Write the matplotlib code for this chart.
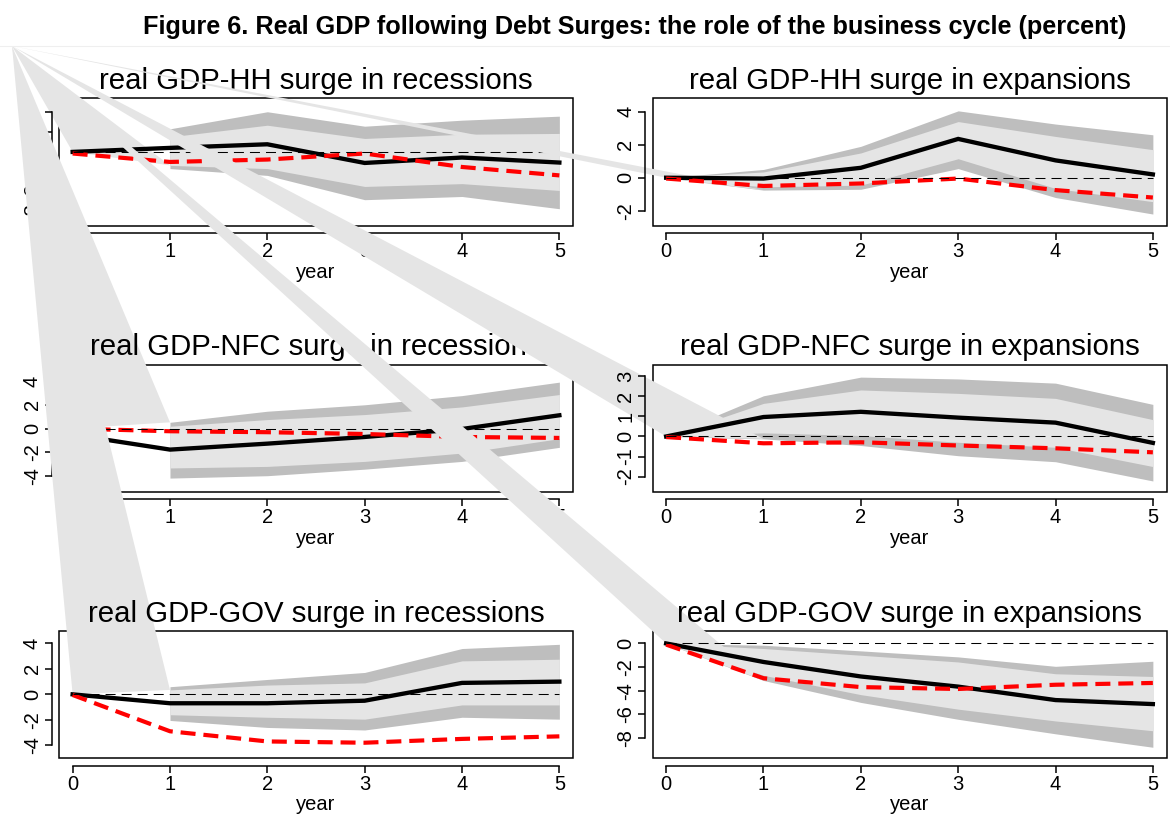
import matplotlib
matplotlib.use("Agg")
import matplotlib.pyplot as plt
from matplotlib.patches import Polygon, Rectangle
from matplotlib.transforms import IdentityTransform
from matplotlib.lines import Line2D

plt.rcParams['font.family'] = ['Liberation Sans', 'DejaVu Sans']

years = [0, 1, 2, 3, 4, 5]

# household debt surges
hh_rec_mean = [0, 0.2, 0.38, -0.55, -0.28, -0.53]
hh_rec_alt = [-0.08, -0.5, -0.38, -0.08, -0.75, -1.17]
hh_rec_hi90 = [1.15, 2.0, 1.28, 1.58, 1.78]
hh_rec_lo90 = [-0.83, -1.17, -2.38, -2.22, -2.83]
hh_rec_hi68 = [0.75, 1.33, 0.67, 0.88, 0.92]
hh_rec_lo68 = [-0.67, -0.83, -1.72, -1.58, -1.92]

hh_exp_mean = [0, -0.05, 0.6, 2.35, 1.05, 0.2]
hh_exp_alt = [-0.05, -0.5, -0.35, -0.05, -0.75, -1.2]
hh_exp_hi90 = [0, 0.5, 1.9, 4.05, 3.25, 2.6]
hh_exp_lo90 = [0, -0.75, -0.7, 0.55, -1.2, -2.2]
hh_exp_hi68 = [0, 0.35, 1.5, 3.4, 2.5, 1.7]
hh_exp_lo68 = [0, -0.55, -0.45, 1.15, -0.65, -1.45]

# non-financial corporate debt surges
nfc_rec_mean = [-0.5, -1.76, -1.26, -0.7, -0.03, 1.12]
nfc_rec_alt = [0, -0.22, -0.3, -0.45, -0.7, -0.78]
nfc_rec_hi90 = [0.53, 1.46, 2.0, 2.77, 3.9]
nfc_rec_lo90 = [-4.15, -3.95, -3.4, -2.75, -1.57]
nfc_rec_hi68 = [0.2, 0.76, 1.18, 1.82, 2.86]
nfc_rec_lo68 = [-3.3, -3.17, -2.75, -2.05, -0.84]

nfc_exp_mean = [0, 0.97, 1.23, 0.94, 0.69, -0.32]
nfc_exp_alt = [-0.03, -0.34, -0.29, -0.45, -0.59, -0.79]
nfc_exp_hi90 = [0, 2.03, 2.96, 2.87, 2.66, 1.6]
nfc_exp_lo90 = [0, -0.12, -0.45, -0.96, -1.26, -2.22]
nfc_exp_hi68 = [0, 1.65, 2.32, 2.15, 1.9, 0.84]
nfc_exp_lo68 = [0, 0.18, 0.05, -0.29, -0.54, -1.5]

# government debt surges
gov_rec_mean = [0, -0.7, -0.7, -0.5, 0.9, 1.0]
gov_rec_alt = [-0.05, -2.9, -3.7, -3.8, -3.5, -3.3]
gov_rec_hi90 = [0.6, 1.17, 1.72, 3.6, 3.93]
gov_rec_lo90 = [-2.05, -2.6, -2.8, -1.8, -1.95]
gov_rec_hi68 = [0.35, 0.73, 0.9, 2.63, 2.76]
gov_rec_lo68 = [-1.6, -1.8, -1.95, -0.83, -0.83]

gov_exp_mean = [0, -1.57, -2.8, -3.66, -4.8, -5.14]
gov_exp_alt = [-0.1, -2.95, -3.7, -3.86, -3.5, -3.35]
gov_exp_hi90 = [0, -0.15, -0.63, -1.14, -1.94, -1.51]
gov_exp_lo90 = [0, -3.14, -5.0, -6.43, -7.66, -8.8]
gov_exp_hi68 = [0, -0.43, -1.0, -1.57, -2.57, -2.8]
gov_exp_lo68 = [0, -2.7, -4.34, -5.57, -6.57, -7.4]

titles = ["real GDP-HH surge in recessions", "real GDP-HH surge in expansions",
          "real GDP-NFC surge in recessions", "real GDP-NFC surge in expansions",
          "real GDP-GOV surge in recessions", "real GDP-GOV surge in expansions"]
yticks = [[-3, -2, -1, 0, 1, 2], [-2, 0, 2, 4],
          [-4, -2, 0, 2, 4], [-2, -1, 0, 1, 2, 3],
          [-4, -2, 0, 2, 4], [-8, -6, -4, -2, 0]]
ylims = [(-3.67, 2.67), (-2.9, 4.81),
         (-5.3, 5.38), (-2.76, 3.59),
         (-5.0, 5.0), (-9.71, 1.08)]

panels = [
    (hh_rec_mean, hh_rec_alt, hh_rec_hi90, hh_rec_lo90, hh_rec_hi68, hh_rec_lo68),
    (hh_exp_mean, hh_exp_alt, hh_exp_hi90, hh_exp_lo90, hh_exp_hi68, hh_exp_lo68),
    (nfc_rec_mean, nfc_rec_alt, nfc_rec_hi90, nfc_rec_lo90, nfc_rec_hi68, nfc_rec_lo68),
    (nfc_exp_mean, nfc_exp_alt, nfc_exp_hi90, nfc_exp_lo90, nfc_exp_hi68, nfc_exp_lo68),
    (gov_rec_mean, gov_rec_alt, gov_rec_hi90, gov_rec_lo90, gov_rec_hi68, gov_rec_lo68),
    (gov_exp_mean, gov_exp_alt, gov_exp_hi90, gov_exp_lo90, gov_exp_hi68, gov_exp_lo68),
]

# year-1 band value where each light band's stray spike lands
spike_tip = [hh_rec_lo68[0], hh_exp_lo90[1], nfc_rec_hi90[0],
             nfc_exp_lo90[1], gov_rec_hi68[0], gov_exp_lo90[1]]

dark = '#bebebe'
light = '#e5e5e5'

W, H = 1170, 819
fig = plt.figure(figsize=(W / 100, H / 100), dpi=100)
fig.patch.set_facecolor('white')

col_x = [59, 652.5]
row_y = [98.3, 364.5, 630.7]
box_w, box_h = 514, 127.3

# stray corner the light bands get pulled to (as in the original export)
anchor = fig.transFigure.transform((12 / W, 1 - 46 / H))

fig.add_artist(Line2D([0, 1], [1 - 46 / H, 1 - 46 / H], color='#efefef', lw=0.8))
fig.text(634.5 / W, 1 - 27 / H,
         "Figure 6. Real GDP following Debt Surges: the role of the business cycle (percent)",
         ha='center', va='center', fontsize=18.2, fontweight='bold')

for i, (mean, alt, hi90, lo90, hi68, lo68) in enumerate(panels):
    r, c = divmod(i, 2)
    ax = fig.add_axes([col_x[c] / W, 1 - (row_y[r] + box_h) / H, box_w / W, box_h / H])
    ax.set_facecolor('none')
    ax.set_xlim(-0.14, 5.14)
    ax.set_ylim(*ylims[i])

    # frame first, the bands go over it
    ax.add_patch(Rectangle((0, 0), 1, 1, transform=ax.transAxes, fill=False,
                           lw=1.1, edgecolor='black', clip_on=False, zorder=0.5))

    bx = years[len(years) - len(hi90):]
    ax.fill_between(bx, lo90, hi90, color=dark, lw=0, zorder=1)
    ax.fill_between(bx, lo68, hi68, color=light, lw=0, zorder=1.1)

    verts = [anchor,
             ax.transData.transform((years[0], 0)),
             ax.transData.transform((years[1], spike_tip[i]))]
    ax.add_patch(Polygon(verts, closed=True, transform=IdentityTransform(),
                         facecolor=light, edgecolor='none', clip_on=False, zorder=1.1))

    ax.plot(years, mean, color='black', lw=3.1, solid_joinstyle='miter', zorder=2)
    ax.plot(years, alt, color='red', lw=3.0, dashes=(3.6, 1.9), zorder=2.1)
    ax.plot([years[0], years[-1]], [0, 0], color='black', lw=0.75,
            dashes=(9.6, 5.8), zorder=2.2)

    ax.set_xticks(years)
    ax.set_xticklabels([str(y) for y in years])
    ax.set_yticks(yticks[i])
    ax.set_yticklabels([str(t) for t in yticks[i]])
    for side in ('top', 'right'):
        ax.spines[side].set_visible(False)
    for side in ('left', 'bottom'):
        ax.spines[side].set_position(('outward', 5.4))
        ax.spines[side].set_linewidth(1.1)
        ax.spines[side].set_zorder(2.5)
    ax.spines['left'].set_bounds(yticks[i][0], yticks[i][-1])
    ax.spines['bottom'].set_bounds(years[0], years[-1])
    ax.tick_params(length=5, width=1.1, labelsize=14.5, pad=1.5)
    ax.tick_params(axis='y', labelrotation=90, pad=2)
    for lab in ax.get_yticklabels():
        lab.set_verticalalignment('center')
    ax.xaxis.set_zorder(2.5)
    ax.yaxis.set_zorder(2.5)
    ax.set_xlabel('year', fontsize=14.5, labelpad=1)
    ax.set_title(titles[i], fontsize=21.2, pad=6.5)

fig.savefig('out.png', dpi=100)
